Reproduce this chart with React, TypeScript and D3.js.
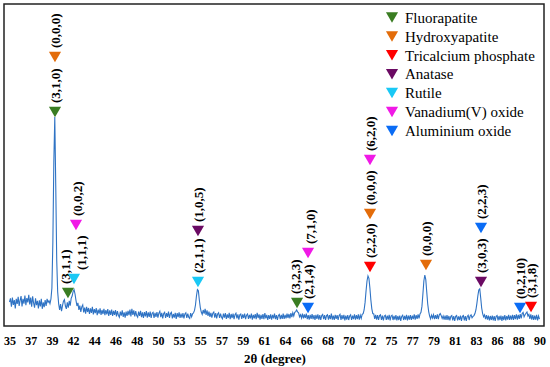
import { useEffect, useRef } from "react";
import * as d3 from "d3";

// XRD scan: 2θ from 35° to 90°, one reading every 0.1°
const scanStart = 35;
const scanStep = 0.1;
// prettier-ignore
const counts = [
  120,138,96,142,105,130,88,136,110,146, // 35
  100,128,150,98,136,112,152,104,140,118, // 36
  156,108,142,96,148,115,92,138,104,126, // 37
  88,128,98,136,86,118,94,130,100,136, // 38
  118,126,112,135,190,420,820,1045,700,330, // 39
  170,112,80,110,74,102,124,132,100,86, // 40
  118,92,126,102,138,150,172,182,160,128, // 41
  100,116,80,102,70,96,106,68,92,62, // 42
  96,70,90,60,88,66,96,58,84,64, // 43
  90,54,82,62,88,56,80,60,86,54, // 44
  80,58,84,50,78,56,82,50,76,56, // 45
  80,48,74,54,44,72,52,78,46,68, // 46
  42,72,50,76,54,82,48,86,56,78, // 47
  48,74,52,44,72,50,76,44,68,40, // 48
  70,48,74,42,68,46,72,40,64,68, // 49
  40,66,46,70,42,64,74,44,66,38, // 50
  62,68,40,64,46,72,40,62,68,38, // 51
  60,42,66,36,64,44,68,40,62,42, // 52
  64,38,60,66,40,62,44,38,64,46, // 53
  61,66,78,105,150,182,176,130,92,70, // 54
  58,80,62,86,56,78,50,72,46,66, // 55
  42,64,70,42,64,38,60,66,40,62, // 56
  44,36,62,42,64,36,58,40,66,34, // 57
  60,40,62,34,56,64,38,58,32,56, // 58
  60,36,58,40,62,34,54,60,36,56, // 59
  38,62,32,56,38,60,34,66,40,58, // 60
  32,56,36,60,34,64,38,56,30,54, // 61
  36,58,32,56,38,62,34,54,30,52, // 62
  58,34,56,36,62,36,56,38,62,40, // 63
  60,38,64,44,66,50,68,72,80,70, // 64
  66,46,56,40,62,38,58,40,62,34, // 65
  54,32,56,36,60,34,54,30,56,36, // 66
  58,32,54,30,52,58,34,54,30,52, // 67
  56,32,54,34,62,32,52,30,56,36, // 68
  54,30,52,58,30,54,34,56,28,52, // 69
  32,54,30,50,56,30,52,34,58,32, // 70
  54,34,58,32,54,38,58,62,80,118, // 71
  175,225,250,238,190,130,86,62,60,36, // 72
  56,32,54,30,52,56,30,52,28,50, // 73
  54,30,52,32,56,28,50,54,30,50, // 74
  32,54,28,50,30,52,26,48,54,30, // 75
  50,32,56,28,52,32,54,30,52,34, // 76
  58,32,54,36,58,38,60,68,98,160, // 77
  225,255,232,170,110,72,50,36,54,40, // 78
  56,34,54,36,58,34,56,62,52,38, // 79
  50,32,52,30,54,30,50,28,48,52, // 80
  28,50,26,48,52,28,48,30,52,26, // 81
  48,52,28,50,26,48,54,30,50,56, // 82
  41,48,52,62,80,112,150,180,186,140, // 83
  90,62,46,56,34,54,32,52,28,50, // 84
  30,52,28,50,26,48,52,28,50,30, // 85
  52,26,50,30,54,28,50,32,56,30, // 86
  52,32,56,30,54,34,58,32,56,36, // 87
  60,38,62,68,46,56,64,70,50,58, // 88
  36,58,32,54,30,52,32,56,28,50, // 89
  34, // 90
];

// x axis is a category-style axis: 26 evenly spaced labels
const tickValues = [35, 37.2, 39.4, 41.6, 43.8, 46, 48.2, 50.4, 52.6, 54.8, 57, 59.2, 61.4, 63.6, 65.8, 68, 70.2, 72.4, 74.6, 76.8, 79, 81.2, 83.4, 85.6, 87.8, 90];
const tickLabels = ["35", "37", "39", "42", "44", "46", "48", "50", "53", "55", "57", "59", "61", "64", "66", "68", "70", "72", "75", "77", "79", "81", "83", "86", "88", "90"];

const phases = ["Fluorapatite", "Hydroxyapatite", "Tricalcium phosphate", "Anatase", "Rutile", "Vanadium(V) oxide", "Aluminium oxide"];
const phaseColors = ["#3a7d22", "#e36c0a", "#ff0000", "#6b0a63", "#19c8f5", "#f019e6", "#0a6cf5"];

// peak markers: phase, 2θ, marker level (counts), Miller index
const peakPhase = ["Hydroxyapatite", "Fluorapatite", "Fluorapatite", "Rutile", "Vanadium(V) oxide", "Rutile", "Anatase", "Fluorapatite", "Aluminium oxide", "Vanadium(V) oxide", "Tricalcium phosphate", "Hydroxyapatite", "Vanadium(V) oxide", "Hydroxyapatite", "Anatase", "Aluminium oxide", "Aluminium oxide", "Tricalcium phosphate"];
const peakTheta = [39.72, 39.72, 41.07, 41.69, 41.9, 54.56, 54.56, 64.84, 65.98, 65.98, 72.41, 72.41, 72.41, 78.22, 83.93, 83.93, 87.98, 89.12];
const peakLevel = [1345, 1070, 165, 235, 505, 220, 475, 115, 90, 365, 295, 560, 830, 305, 220, 490, 90, 95];
const peakHkl = ["(0,0,0)", "(3,1,0)", "(3,1,1)", "(1,1,1)", "(0,0,2)", "(2,1,1)", "(1,0,5)", "(3,2,3)", "(2,1,4)", "(7,1,0)", "(2,2,0)", "(0,0,0)", "(6,2,0)", "(0,0,0)", "(3,0,3)", "(2,2,3)", "(0,2,10)", "(3,1,8)"];

const W = 550;
const H = 367;
const serif = "'Liberation Serif', 'Times New Roman', serif";

// small sideways nudges for crowded labels
const labelShift: Record<number, number> = { 2: -3, 3: 7, 4: 1, 7: -2, 9: 2 };

export default function App() {
  const axisRef = useRef<SVGGElement>(null);

  const x = d3.scaleLinear().domain([35, 90]).range([9.5, 539.5]);
  const y = d3.scaleLinear().domain([0, 1610]).range([326, 4]);
  const color = d3.scaleOrdinal<string, string>().domain(phases).range(phaseColors);

  const line = d3
    .line<number>()
    .x((d, i) => x(scanStart + i * scanStep))
    .y((d) => y(d));

  const tri = d3.symbol().type(d3.symbolTriangle).size(64)();

  useEffect(() => {
    const g = d3.select(axisRef.current);
    g.selectAll("*").remove();
    g.call(
      d3
        .axisBottom(x)
        .tickValues(tickValues)
        .tickSize(0)
        .tickPadding(0)
        .tickFormat((d, i) => tickLabels[i])
    );
    g.select(".domain").remove();
    g.attr("font-family", serif).attr("font-size", 12).attr("font-weight", "bold");
    g.selectAll("text").attr("dy", "0.35em").attr("y", 0).attr("fill", "#000");
  }, []);

  return (
    <svg width={W} height={H} style={{ position: "absolute", left: 0, top: 0, background: "#fff" }}>
      <path d={line(counts) ?? ""} fill="none" stroke="#2f73c4" strokeWidth={1.1} />

      {peakTheta.map((t, i) => {
        const cx = x(t);
        const cy = y(peakLevel[i]);
        const dx = labelShift[i] ?? 0;
        return (
          <g key={i}>
            <path d={tri ?? ""} transform={`translate(${cx},${cy - 1.75}) rotate(180)`} fill={color(peakPhase[i])} />
            <text
              transform={`translate(${cx + dx},${cy - 9}) rotate(-90)`}
              dy="0.35em"
              fontFamily={serif}
              fontWeight="bold"
              fontSize={13}
            >
              {peakHkl[i]}
            </text>
          </g>
        );
      })}

      <g transform="translate(392,0)">
        {phases.map((p, i) => (
          <g key={p} transform={`translate(0,${17.5 + i * 18.9})`}>
            <path d={tri ?? ""} transform="translate(0,-1.75) rotate(180)" fill={color(p)} />
            <text x={13} dy="0.35em" fontFamily={serif} fontSize={15} fill="#000">
              {p}
            </text>
          </g>
        ))}
      </g>

      <rect x={4} y={4} width={540} height={322} fill="none" stroke="#222" strokeWidth={1.5} />
      <g ref={axisRef} transform="translate(0,341)" />
      <text x={275} y={358} dy="0.35em" textAnchor="middle" fontFamily={serif} fontWeight="bold" fontSize={13}>
        2θ (degree)
      </text>
    </svg>
  );
}
